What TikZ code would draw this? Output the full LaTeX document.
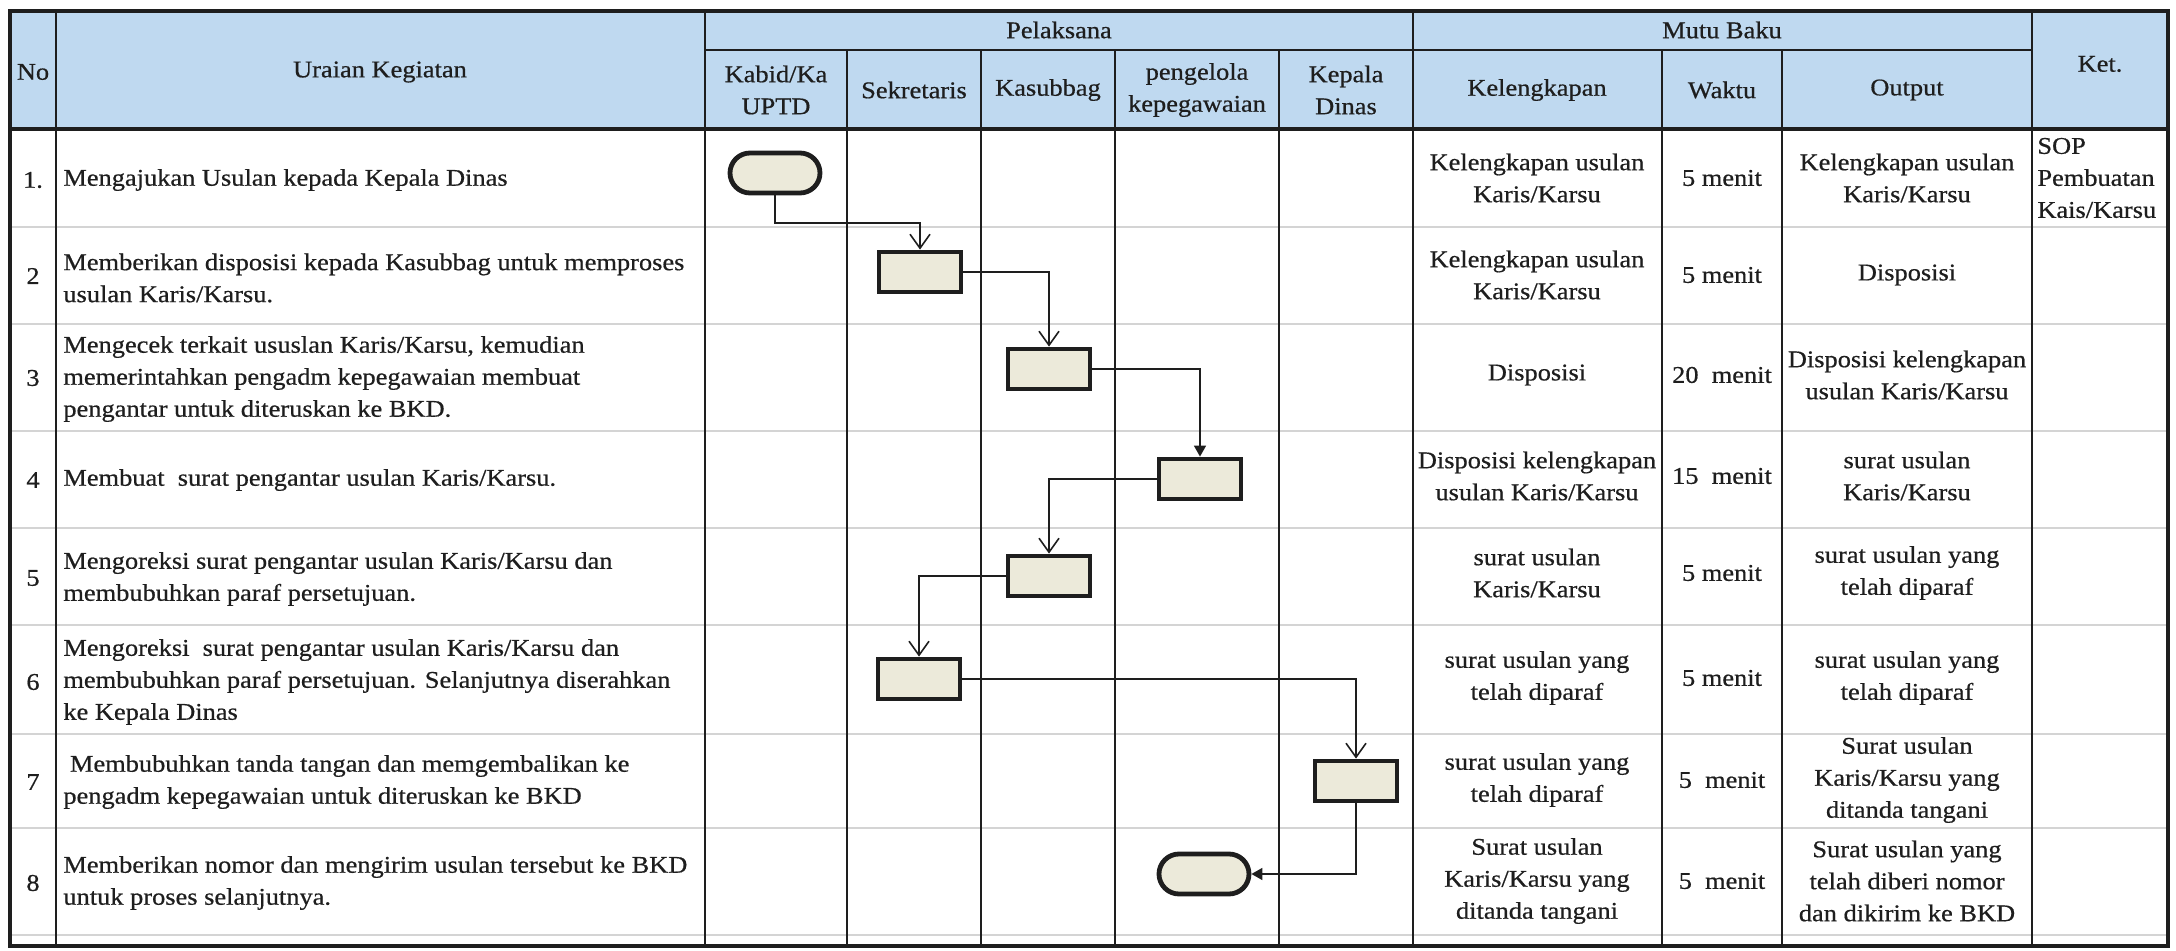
\documentclass[tikz,border=0pt]{standalone}
\usepackage{fontspec}
\setmainfont{Liberation Serif}[FakeStretch=1.1,FakeBold=0.6]
\usetikzlibrary{arrows.meta,shapes.misc}
\definecolor{hdr}{RGB}{191,217,240}
\definecolor{boxfill}{RGB}{236,234,218}
\definecolor{ink}{RGB}{30,30,30}
\definecolor{rowline}{RGB}{212,212,212}
\tikzset{
  txt/.style={text=ink, align=center, inner sep=0pt},
  ltxt/.style={text=ink, align=left, anchor=west, inner sep=0pt},
  proc/.style={draw=ink, line width=2.4pt, fill=boxfill, minimum width=41pt, minimum height=20pt, inner sep=0pt},
  term/.style={rounded rectangle, draw=ink, line width=2.4pt, fill=boxfill, minimum width=45pt, minimum height=20pt, inner sep=0pt},
  flow/.style={draw=ink, line width=0.75pt},
  openarr/.style={-{Straight Barb[length=7pt,width=10pt,line width=0.8pt]}},
  fillarr/.style={-{Triangle[length=5.5pt,width=6pt]}},
  grid/.style={draw=ink, line width=1pt},
  rowsep/.style={draw=rowline, line width=0.8pt}
}
\begin{document}
\begin{tikzpicture}[x=0.5pt,y=-0.5pt,font=\fontsize{12}{16}\selectfont]
\useasboundingbox (0,0) rectangle (2176,951);
% header background
\fill[hdr] (10,11) rectangle (2168,129);
% row separators
\foreach \yy in {227,324,431,528,625,734,828,935}
  \draw[rowsep] (10,\yy) -- (2168,\yy);
% vertical lines
\foreach \xx in {56,705,1413,2032}
  \draw[grid] (\xx,11) -- (\xx,946);
\foreach \xx in {847,981,1115,1279,1662,1782}
  \draw[grid] (\xx,50) -- (\xx,946);
\draw[grid] (705,50) -- (2032,50);
\draw[draw=ink, line width=1.6pt] (10,129) -- (2168,129);
\draw[draw=ink, line width=2pt] (10,11) rectangle (2168,946);

% header texts
\node[txt] (hNo) at (33,72) {No};
\node[txt] (hUr) at (380,72) {Uraian Kegiatan};
\node[txt] (hPel) at (1059,30) {Pelaksana};
\node[txt] (hKab) at (776,90) {Kabid/Ka\\UPTD};
\node[txt] (hSek) at (914,90) {Sekretaris};
\node[txt] (hKas) at (1048,90) {Kasubbag};
\node[txt] (hPen) at (1197,90) {pengelola\\kepegawaian};
\node[txt] (hKep) at (1346,90) {Kepala\\Dinas};
\node[txt] (hMutu) at (1722,30) {Mutu Baku};
\node[txt] (hKel) at (1537,90) {Kelengkapan};
\node[txt] (hWak) at (1722,90) {Waktu};
\node[txt] (hOut) at (1907,90) {Output};
\node[txt] (hKet) at (2100,64) {Ket.};

% numbers
\node[txt] (n1) at (33,180) {1.};
\node[txt] (n2) at (33,276) {2};
\node[txt] (n3) at (33,378) {3};
\node[txt] (n4) at (33,480) {4};
\node[txt] (n5) at (33,578) {5};
\node[txt] (n6) at (33,682) {6};
\node[txt] (n7) at (33,782) {7};
\node[txt] (n8) at (33,883) {8};

% uraian
\node[ltxt] (u1) at (63,180) {Mengajukan Usulan kepada Kepala Dinas};
\node[ltxt] (u2) at (63,278) {Memberikan disposisi kepada Kasubbag untuk memproses\\usulan Karis/Karsu.};
\node[ltxt] (u3) at (63,379) {Mengecek terkait ususlan Karis/Karsu, kemudian\\memerintahkan pengadm kepegawaian membuat\\pengantar untuk diteruskan ke BKD.};
\node[ltxt] (u4) at (63,480) {Membuat\ \ surat pengantar usulan Karis/Karsu.};
\node[ltxt] (u5) at (63,579) {Mengoreksi surat pengantar usulan Karis/Karsu dan\\membubuhkan paraf persetujuan.};
\node[ltxt] (u6) at (63,682) {Mengoreksi\ \ surat pengantar usulan Karis/Karsu dan\\membubuhkan paraf persetujuan. Selanjutnya diserahkan\\ke Kepala Dinas};
\node[ltxt] (u7) at (63,782) {\ Membubuhkan tanda tangan dan memgembalikan ke\\pengadm kepegawaian untuk diteruskan ke BKD};
\node[ltxt] (u8) at (63,883) {Memberikan nomor dan mengirim usulan tersebut ke BKD\\untuk proses selanjutnya.};

% kelengkapan
\node[txt] (k1) at (1537,178) {Kelengkapan usulan\\Karis/Karsu};
\node[txt] (k2) at (1537,275) {Kelengkapan usulan\\Karis/Karsu};
\node[txt] (k3) at (1537,375) {Disposisi};
\node[txt] (k4) at (1537,476) {Disposisi kelengkapan\\usulan Karis/Karsu};
\node[txt] (k5) at (1537,573) {surat usulan\\Karis/Karsu};
\node[txt] (k6) at (1537,678) {surat usulan yang\\telah diparaf};
\node[txt] (k7) at (1537,780) {surat usulan yang\\telah diparaf};
\node[txt] (k8) at (1537,881) {Surat usulan\\Karis/Karsu yang\\ditanda tangani};

% waktu
\node[txt] (w1) at (1722,178) {5 menit};
\node[txt] (w2) at (1722,275) {5 menit};
\node[txt] (w3) at (1722,375) {20\ \ menit};
\node[txt] (w4) at (1722,476) {15\ \ menit};
\node[txt] (w5) at (1722,573) {5 menit};
\node[txt] (w6) at (1722,678) {5 menit};
\node[txt] (w7) at (1722,780) {5\ \ menit};
\node[txt] (w8) at (1722,881) {5\ \ menit};

% output
\node[txt] (o1) at (1907,178) {Kelengkapan usulan\\Karis/Karsu};
\node[txt] (o2) at (1907,275) {Disposisi};
\node[txt] (o3) at (1907,375) {Disposisi kelengkapan\\usulan Karis/Karsu};
\node[txt] (o4) at (1907,476) {surat usulan\\Karis/Karsu};
\node[txt] (o5) at (1907,573) {surat usulan yang\\telah diparaf};
\node[txt] (o6) at (1907,678) {surat usulan yang\\telah diparaf};
\node[txt] (o7) at (1907,780) {Surat usulan\\Karis/Karsu yang\\ditanda tangani};
\node[txt] (o8) at (1907,881) {Surat usulan yang\\telah diberi nomor\\dan dikirim ke BKD};

% ket
\node[ltxt] (ket1) at (2037,178) {SOP\\Pembuatan\\Kais/Karsu};

% flow shapes
\node[term] (t1) at (775,173) {};
\node[proc] (s2) at (920,272) {};
\node[proc] (c3) at (1049,369) {};
\node[proc] (p4) at (1200,479) {};
\node[proc] (c5) at (1049,576) {};
\node[proc] (s6) at (919,679) {};
\node[proc] (d7) at (1356,781) {};
\node[term] (t8) at (1204,874) {};

% connectors
\coordinate (b1) at (920,223);
\draw[flow,openarr] (t1.south) |- (b1) -- (s2.north);
\draw[flow,openarr] (s2.east) -| (c3.north);
\draw[flow,fillarr] (c3.east) -| (p4.north);
\draw[flow,openarr] (p4.west) -| (c5.north);
\draw[flow,openarr] (c5.west) -| (s6.north);
\draw[flow,openarr] (s6.east) -| (d7.north);
\draw[flow,fillarr] (d7.south) |- (t8.east);
\end{tikzpicture}
\end{document}
